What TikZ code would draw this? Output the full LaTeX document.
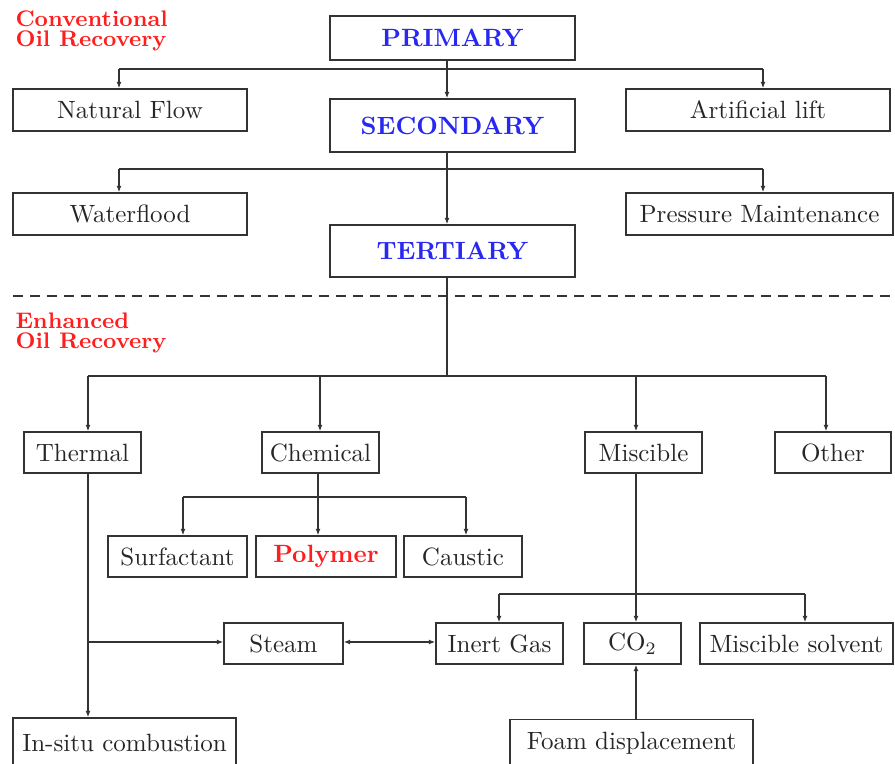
\documentclass[tikz,border=0pt]{standalone}
\usetikzlibrary{arrows.meta}
\definecolor{lncol}{HTML}{333333}
\definecolor{hdblue}{RGB}{40,40,240}
\definecolor{lbred}{RGB}{255,30,30}
\begin{document}
\begin{tikzpicture}[x=0.4pt,y=-0.4pt,
  box/.style={draw=lncol,line width=0.55pt,inner sep=0pt,text=black!85,minimum height=16.4pt},
  head/.style={box,font=\bfseries,text=hdblue,minimum width=98pt},
  lab/.style={inner sep=0pt,anchor=base west,font=\fontsize{9}{10}\selectfont\bfseries,text=lbred},
  conn/.style={draw=lncol,line width=0.5pt},
  arr/.style={conn,-{Latex[length=2.6pt,width=2pt]}},
  darr/.style={conn,{Latex[length=2.6pt,width=2pt]}-{Latex[length=2.6pt,width=2pt]}},
  sep/.style={draw=lncol,line width=0.8pt,dash pattern=on 4pt off 2.8pt}]
\useasboundingbox (0,0) rectangle (895,764);
% labels
\node[lab] (cv1) at (15,27) {Conventional};
\node[lab] (cv2) at (15,47) {Oil Recovery};
\node[lab] (en1) at (15,329) {Enhanced};
\node[lab] (en2) at (15,349) {Oil Recovery};
% conventional part
\node[head,minimum height=17.6pt] (prim) at (452.5,38) {PRIMARY};
\node[box,minimum width=93.6pt,minimum height=16.8pt] (nat) at (130,110) {Natural Flow};
\node[head,minimum height=21.2pt] (sec) at (452.5,125.5) {SECONDARY};
\node[box,minimum width=105.6pt,minimum height=16.8pt] (art) at (758,110) {Artificial lift};
\node[box,minimum width=93.6pt,minimum height=16.8pt] (wat) at (130,214) {Waterflood};
\node[box,minimum width=106.8pt,minimum height=16.8pt] (pres) at (759.5,214) {Pressure Maintenance};
\node[head,minimum height=20.8pt] (ter) at (452.5,251) {TERTIARY};
% EOR part
\node[box,minimum width=46.8pt] (therm) at (82.5,452.5) {Thermal};
\node[box,minimum width=46.8pt] (chem) at (320.5,452.5) {Chemical};
\node[box,minimum width=46.8pt] (misc) at (643.5,452.5) {Miscible};
\node[box,minimum width=46.4pt] (oth) at (833,452.5) {Other};
\node[box,minimum width=55.6pt] (surf) at (177.5,556.5) {Surfactant};
\node[box,minimum width=56pt,text=lbred,font=\bfseries] (poly) at (326,556.5) {Polymer};
\node[box,minimum width=47.2pt] (caus) at (463,556.5) {Caustic};
\node[box,minimum width=47.6pt] (steam) at (283.5,643.5) {Steam};
\node[box,minimum width=50.8pt] (inert) at (499.5,643.5) {Inert Gas};
\node[box,minimum width=38.8pt] (co2) at (632.5,643.5) {CO$_2$};
\node[box,minimum width=77.2pt] (msol) at (796.5,643.5) {Miscible solvent};
\node[box,minimum width=89.2pt,minimum height=20pt] (insitu) at (124.5,743) {In-situ combustion};
\node[box,minimum width=97.2pt,minimum height=19pt] (foam) at (631.5,743) {Foam displacement};
% bus coordinates
\coordinate (p1) at (447,69); \coordinate (p1l) at (119,69); \coordinate (p1r) at (763,69);
\coordinate (s1) at (447,169); \coordinate (s1l) at (119,169); \coordinate (s1r) at (763,169);
\coordinate (t1) at (447,376); \coordinate (t1l) at (88,376); \coordinate (t1r) at (826,376);
\coordinate (tc) at (320,376); \coordinate (tm) at (636,376);
\coordinate (c1) at (318,497); \coordinate (c1l) at (183,497); \coordinate (c1r) at (466,497);
\coordinate (m1) at (636,594); \coordinate (m1l) at (499,594); \coordinate (m1r) at (805,594);
\coordinate (th) at (88,642);
\coordinate (dl) at (13,296); \coordinate (dr) at (895,296);
% primary
\draw[conn] (prim.south -| p1) -- (p1);
\draw[conn] (p1l) -- (p1r);
\draw[arr] (p1l) -- (p1l |- nat.north);
\draw[arr] (p1) -- (p1 |- sec.north);
\draw[arr] (p1r) -- (p1r |- art.north);
% secondary
\draw[conn] (sec.south -| s1) -- (s1);
\draw[conn] (s1l) -- (s1r);
\draw[arr] (s1l) -- (s1l |- wat.north);
\draw[arr] (s1) -- (s1 |- ter.north);
\draw[arr] (s1r) -- (s1r |- pres.north);
% separator
\draw[sep] (dl) -- (dr);
% tertiary
\draw[conn] (ter.south -| t1) -- (t1);
\draw[conn] (t1l) -- (t1r);
\draw[arr] (t1l) -- (t1l |- therm.north);
\draw[arr] (tc) -- (tc |- chem.north);
\draw[arr] (tm) -- (tm |- misc.north);
\draw[arr] (t1r) -- (t1r |- oth.north);
% chemical
\draw[conn] (chem.south -| c1) -- (c1);
\draw[conn] (c1l) -- (c1r);
\draw[arr] (c1l) -- (c1l |- surf.north);
\draw[arr] (c1) -- (c1 |- poly.north);
\draw[arr] (c1r) -- (c1r |- caus.north);
% miscible
\draw[conn] (misc.south -| m1) -- (m1);
\draw[conn] (m1l) -- (m1r);
\draw[arr] (m1l) -- (m1l |- inert.north);
\draw[arr] (m1) -- (m1 |- co2.north);
\draw[arr] (m1r) -- (m1r |- msol.north);
% thermal
\draw[arr] (therm.south -| th) -- (th |- insitu.north);
\draw[arr] (th) -- (th -| steam.west);
\draw[darr] (steam.east |- th) -- (inert.west |- th);
% foam
\draw[arr] (foam.north -| m1) -- (m1 |- co2.south);
\end{tikzpicture}
\end{document}
